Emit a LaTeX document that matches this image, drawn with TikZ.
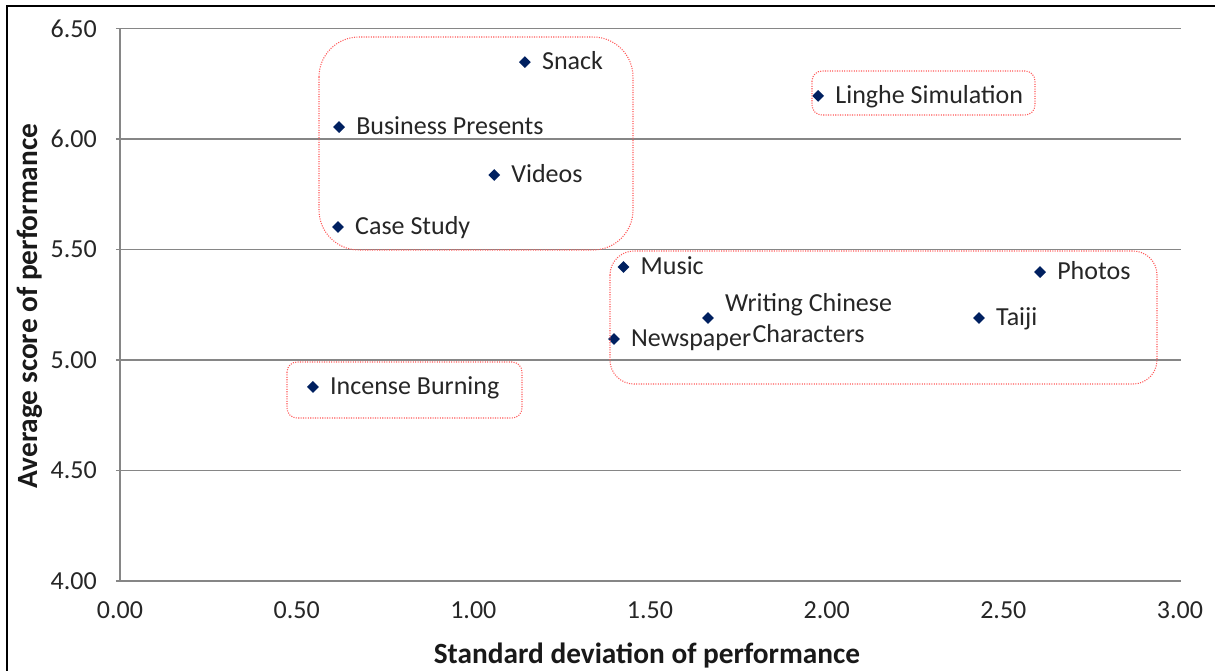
\documentclass[tikz,border=0pt]{standalone}
\usepackage{fontspec}
\setmainfont{Carlito}
\usetikzlibrary{positioning,shapes.geometric}
\definecolor{ptblue}{RGB}{0,32,96}
\definecolor{gridgray}{RGB}{134,134,134}
\definecolor{boxred}{RGB}{255,90,90}
\tikzset{
  datapt/.style={diamond, fill=ptblue, inner sep=0pt, minimum size=9pt},
  lbl/.style={inner sep=0pt, text height=1.1em, text depth=0pt, text=black!85,
    font=\fontsize{19.5}{23.4}\selectfont},
  ticklbl/.style={inner sep=0pt, text=black!85, font=\fontsize{19.5}{23.4}\selectfont},
  axtitle/.style={inner sep=0pt, text=black!90, font=\fontsize{22}{26}\selectfont\bfseries},
  gridline/.style={draw=gridgray, line width=0.9pt},
  grpbox/.style={draw=boxred, densely dotted, line width=0.8pt, rounded corners=#1}
}
\begin{document}
\begin{tikzpicture}[x=0.75pt, y=-0.75pt]
		\useasboundingbox (0,0) rectangle (1215,671);
		\fill[white] (0,0) rectangle (1215,671);
		
		% Outer frame
		\draw[line width=1.6pt] (1215,6) -- (7,6) -- (7,671);
		
		\begin{scope}[shift={(120,1465)}, x=265pt, y=165.75pt]
			% Gridlines and value axis
			\foreach \v [count=\i] in {4.00,4.50,5.00,5.50,6.00,6.50}{
				\draw[gridline] (-0.012,\v) -- (3.003,\v);
				\node[ticklbl, anchor=east] (yt\i) at (-0.065,\v) {\v};
			}
			\draw[gridline] (0,4) -- (0,6.5);
			\foreach \v [count=\i] in {0.00,0.50,1.00,1.50,2.00,2.50,3.00}
				\node[ticklbl] (xt\i) at (\v,3.869) {\v};
			
			% Data points
			\foreach \n/\x/\y in {snack/1.146/6.348, bizpres/0.620/6.054, videos/1.059/5.837,
				casestudy/0.617/5.602, linghe/1.976/6.195, music/1.425/5.421, photos/2.604/5.398,
				writing/1.664/5.190, taiji/2.431/5.190, newspaper/1.398/5.095, incense/0.546/4.878}
				\node[datapt] (\n) at (\x,\y) {};
		\end{scope}
		
		% Point labels
		\node[lbl, right=8pt of snack] (snacklbl) {Snack};
		\node[lbl, right=8pt of bizpres] (bizpreslbl) {Business Presents};
		\node[lbl, right=8pt of videos] (videoslbl) {Videos};
		\node[lbl, right=8pt of casestudy] (casestudylbl) {Case Study};
		\node[lbl, right=8pt of linghe] (linghelbl) {Linghe Simulation};
		\node[lbl, right=8pt of music] (musiclbl) {Music};
		\node[lbl, right=8pt of photos] (photoslbl) {Photos};
		\node[lbl, right=8pt of taiji] (taijilbl) {Taiji};
		\node[lbl, right=8pt of newspaper] (newspaperlbl) {Newspaper};
		\node[lbl, right=8pt of incense] (incenselbl) {Incense Burning};
		\node[ticklbl, align=center, right=8pt of writing] (writinglbl) {Writing Chinese\\Characters};
		
		% Groups
		\draw[grpbox=30pt] (319,37) rectangle (633,250);
		\draw[grpbox=7.5pt] (812,71) rectangle (1035,115);
		\draw[grpbox=18pt] (610,251) rectangle (1157,384);
		\draw[grpbox=7.5pt] (287,362) rectangle (522,418);
		
		% Axis titles
		\node[axtitle, rotate=90] (ytitle) at (30,306) {Average score of performance};
		\node[axtitle] (xtitle) at (647,655) {Standard deviation of performance};
	\end{tikzpicture}
\end{document}
